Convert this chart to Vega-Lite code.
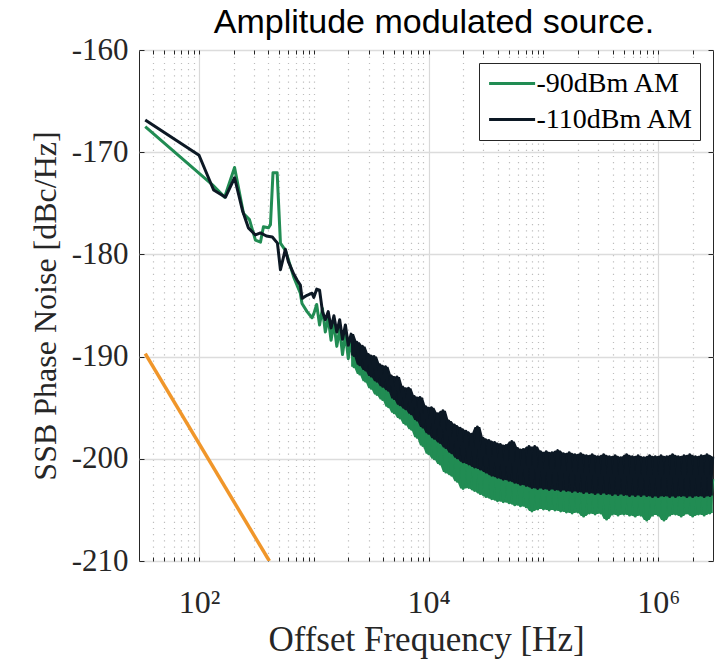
{
  "$schema": "https://vega.github.io/schema/vega-lite/v6.json",
  "width": 574,
  "height": 511,
  "autosize": "none",
  "padding": {"left": 139, "top": 50, "right": 13, "bottom": 104},
  "background": "white",
  "title": {"text": "Amplitude modulated source.", "font": "Liberation Sans", "fontSize": 34, "fontWeight": "normal", "color": "#000000", "anchor": "middle", "frame": "group", "offset": -33, "baseline": "alphabetic", "dx": 8},
  "config": {
    "view": {"stroke": "#262626", "strokeWidth": 1},
    "axis": {"domain": false, "labelFont": "Liberation Serif", "titleFont": "Liberation Serif", "labelColor": "#262626", "titleColor": "#262626", "tickColor": "#262626", "titleFontWeight": "normal", "labelFontSize": 31, "titleFontSize": 33, "labelFlush": false, "labelOverlap": false},
    "legend": {"title": null, "labelFont": "Liberation Serif", "labelFontSize": 28, "labelColor": "#000000", "symbolType": "M-1.04,0H3.56", "symbolSize": 400, "symbolStrokeWidth": 2.8, "strokeColor": "#262626", "fillColor": "white", "padding": 6.5, "labelOffset": 23, "rowPadding": 8, "labelLimit": 300}
  },
  "datasets": {
    "pn": [
      {"f": 34, "-90dBm AM": -167.5, "-110dBm AM": -166.85},
      {"f": 100, "-110dBm AM": -170.3},
      {"f": 131, "-90dBm AM": -173.2},
      {"f": 134, "-110dBm AM": -173.7},
      {"f": 167, "-90dBm AM": -174.4},
      {"f": 170, "-110dBm AM": -174.4},
      {"f": 204, "-90dBm AM": -171.5, "-110dBm AM": -172.5},
      {"f": 239, "-110dBm AM": -175.7},
      {"f": 244, "-90dBm AM": -176.0},
      {"f": 269, "-110dBm AM": -177.4},
      {"f": 275, "-90dBm AM": -176.6},
      {"f": 310, "-90dBm AM": -178.6, "-110dBm AM": -178.1},
      {"f": 343, "-90dBm AM": -178.8, "-110dBm AM": -177.9},
      {"f": 364, "-90dBm AM": -177.3},
      {"f": 386, "-110dBm AM": -178.2},
      {"f": 402, "-90dBm AM": -177.4},
      {"f": 419, "-90dBm AM": -177.1},
      {"f": 435, "-110dBm AM": -178.3},
      {"f": 441, "-90dBm AM": -172.0},
      {"f": 479, "-90dBm AM": -172.0},
      {"f": 482, "-110dBm AM": -178.9},
      {"f": 512, "-90dBm AM": -178.9, "-110dBm AM": -181.5},
      {"f": 565, "-90dBm AM": -179.6, "-110dBm AM": -179.5},
      {"f": 600, "-90dBm AM": -180.5, "-110dBm AM": -180.7},
      {"f": 667, "-90dBm AM": -182.2, "-110dBm AM": -181.9},
      {"f": 714, "-90dBm AM": -183.0, "-110dBm AM": -182.5},
      {"f": 763, "-90dBm AM": -183.8, "-110dBm AM": -183.0},
      {"f": 789, "-90dBm AM": -184.8, "-110dBm AM": -184.3},
      {"f": 873, "-90dBm AM": -185.6, "-110dBm AM": -184.0},
      {"f": 964, "-90dBm AM": -186.2, "-110dBm AM": -183.8},
      {"f": 1000, "-90dBm AM": -185.8, "-110dBm AM": -184.2},
      {"f": 1059, "-90dBm AM": -184.9, "-110dBm AM": -183.4},
      {"f": 1122, "-90dBm AM": -186.9, "-110dBm AM": -183.5},
      {"f": 1189, "-90dBm AM": -185.3, "-110dBm AM": -185.6},
      {"f": 1259, "-90dBm AM": -187.6, "-110dBm AM": -186.4},
      {"f": 1334, "-90dBm AM": -186.2, "-110dBm AM": -185.6},
      {"f": 1413, "-90dBm AM": -188.4, "-110dBm AM": -187.2},
      {"f": 1496, "-90dBm AM": -186.7, "-110dBm AM": -186.0},
      {"f": 1585, "-90dBm AM": -189.0, "-110dBm AM": -187.6},
      {"f": 1679, "-90dBm AM": -187.3, "-110dBm AM": -186.4},
      {"f": 1778, "-90dBm AM": -189.8, "-110dBm AM": -188.3},
      {"f": 1884, "-90dBm AM": -187.7, "-110dBm AM": -186.9},
      {"f": 1995, "-90dBm AM": -190.2, "-110dBm AM": -188.9},
      {"f": 2113, "-90dBm AM": -188.4, "-110dBm AM": -187.8},
      {"f": 2239, "-90dBm AM": -191.0, "-110dBm AM": -189.9},
      {"f": 2371, "-90dBm AM": -189.2, "-110dBm AM": -188.6},
      {"f": 2512, "-90dBm AM": -191.7, "-110dBm AM": -190.8},
      {"f": 2661, "-90dBm AM": -189.8, "-110dBm AM": -189.0},
      {"f": 2818, "-90dBm AM": -192.4, "-110dBm AM": -191.3},
      {"f": 2985, "-90dBm AM": -190.4, "-110dBm AM": -189.8},
      {"f": 3162, "-90dBm AM": -193.1, "-110dBm AM": -191.9},
      {"f": 3350, "-90dBm AM": -190.9, "-110dBm AM": -190.0},
      {"f": 3548, "-90dBm AM": -193.7, "-110dBm AM": -192.4},
      {"f": 3758, "-90dBm AM": -191.5, "-110dBm AM": -190.8},
      {"f": 3981, "-90dBm AM": -194.2, "-110dBm AM": -192.9},
      {"f": 4217, "-90dBm AM": -192.0, "-110dBm AM": -191.0},
      {"f": 4467, "-90dBm AM": -194.9, "-110dBm AM": -193.3},
      {"f": 4732, "-90dBm AM": -192.6, "-110dBm AM": -191.9},
      {"f": 5012, "-90dBm AM": -195.5, "-110dBm AM": -194.1},
      {"f": 5309, "-90dBm AM": -193.1, "-110dBm AM": -192.0},
      {"f": 5623, "-90dBm AM": -196.0, "-110dBm AM": -194.7},
      {"f": 5957, "-90dBm AM": -193.7, "-110dBm AM": -193.0},
      {"f": 6310, "-90dBm AM": -196.6, "-110dBm AM": -195.1},
      {"f": 6683, "-90dBm AM": -194.2, "-110dBm AM": -193.1},
      {"f": 7079, "-90dBm AM": -197.1, "-110dBm AM": -195.6},
      {"f": 7499, "-90dBm AM": -194.7, "-110dBm AM": -193.9},
      {"f": 7943, "-90dBm AM": -197.9, "-110dBm AM": -196.2},
      {"f": 8414, "-90dBm AM": -195.3, "-110dBm AM": -194.0},
      {"f": 8913, "-90dBm AM": -198.7, "-110dBm AM": -196.9},
      {"f": 9441, "-90dBm AM": -195.9, "-110dBm AM": -194.9},
      {"f": 10000, "-90dBm AM": -199.5, "-110dBm AM": -197.5},
      {"f": 10590, "-90dBm AM": -196.2, "-110dBm AM": -195.0},
      {"f": 11220, "-90dBm AM": -200.0, "-110dBm AM": -198.0},
      {"f": 11890, "-90dBm AM": -196.7, "-110dBm AM": -195.6},
      {"f": 12590, "-90dBm AM": -200.5, "-110dBm AM": -198.4},
      {"f": 13340, "-90dBm AM": -197.2, "-110dBm AM": -195.3},
      {"f": 14130, "-90dBm AM": -201.3, "-110dBm AM": -198.9},
      {"f": 14960, "-90dBm AM": -197.7, "-110dBm AM": -196.3},
      {"f": 15850, "-90dBm AM": -201.6, "-110dBm AM": -199.4},
      {"f": 16790, "-90dBm AM": -198.1, "-110dBm AM": -196.7},
      {"f": 17780, "-90dBm AM": -202.2, "-110dBm AM": -199.9},
      {"f": 18840, "-90dBm AM": -198.6, "-110dBm AM": -197.0},
      {"f": 19950, "-90dBm AM": -202.9, "-110dBm AM": -200.3},
      {"f": 21130, "-90dBm AM": -198.9, "-110dBm AM": -197.3},
      {"f": 22390, "-90dBm AM": -202.8, "-110dBm AM": -200.5},
      {"f": 23710, "-90dBm AM": -199.2, "-110dBm AM": -197.6},
      {"f": 25120, "-90dBm AM": -203.1, "-110dBm AM": -200.8},
      {"f": 26610, "-90dBm AM": -199.5, "-110dBm AM": -196.9},
      {"f": 28180, "-90dBm AM": -203.4, "-110dBm AM": -201.0},
      {"f": 29850, "-90dBm AM": -199.8, "-110dBm AM": -198.0},
      {"f": 31620, "-90dBm AM": -203.7, "-110dBm AM": -201.3},
      {"f": 33500, "-90dBm AM": -200.0, "-110dBm AM": -198.2},
      {"f": 35480, "-90dBm AM": -203.9, "-110dBm AM": -201.6},
      {"f": 37580, "-90dBm AM": -200.2, "-110dBm AM": -198.4},
      {"f": 39810, "-90dBm AM": -204.1, "-110dBm AM": -201.8},
      {"f": 42170, "-90dBm AM": -200.4, "-110dBm AM": -198.6},
      {"f": 44670, "-90dBm AM": -204.2, "-110dBm AM": -202.0},
      {"f": 47320, "-90dBm AM": -200.6, "-110dBm AM": -198.7},
      {"f": 50120, "-90dBm AM": -204.3, "-110dBm AM": -202.1},
      {"f": 53090, "-90dBm AM": -200.7, "-110dBm AM": -198.3},
      {"f": 56230, "-90dBm AM": -204.5, "-110dBm AM": -202.3},
      {"f": 59570, "-90dBm AM": -200.9, "-110dBm AM": -199.0},
      {"f": 63100, "-90dBm AM": -204.6, "-110dBm AM": -202.5},
      {"f": 66830, "-90dBm AM": -201.0, "-110dBm AM": -199.1},
      {"f": 70790, "-90dBm AM": -204.7, "-110dBm AM": -202.6},
      {"f": 74990, "-90dBm AM": -201.1, "-110dBm AM": -198.8},
      {"f": 79430, "-90dBm AM": -205.1, "-110dBm AM": -202.8},
      {"f": 84140, "-90dBm AM": -201.2, "-110dBm AM": -198.8},
      {"f": 89130, "-90dBm AM": -204.9, "-110dBm AM": -202.9},
      {"f": 94410, "-90dBm AM": -201.3, "-110dBm AM": -199.3},
      {"f": 100000, "-90dBm AM": -204.9, "-110dBm AM": -202.9},
      {"f": 105900, "-90dBm AM": -201.4, "-110dBm AM": -199.3},
      {"f": 112200, "-90dBm AM": -205.0, "-110dBm AM": -203.0},
      {"f": 118900, "-90dBm AM": -201.5, "-110dBm AM": -199.4},
      {"f": 125900, "-90dBm AM": -205.0, "-110dBm AM": -203.0},
      {"f": 133400, "-90dBm AM": -201.5, "-110dBm AM": -199.2},
      {"f": 141300, "-90dBm AM": -205.1, "-110dBm AM": -203.1},
      {"f": 149600, "-90dBm AM": -201.6, "-110dBm AM": -199.5},
      {"f": 158500, "-90dBm AM": -205.2, "-110dBm AM": -203.1},
      {"f": 167900, "-90dBm AM": -201.6, "-110dBm AM": -199.4},
      {"f": 177800, "-90dBm AM": -205.3, "-110dBm AM": -203.2},
      {"f": 188400, "-90dBm AM": -201.7, "-110dBm AM": -199.6},
      {"f": 199500, "-90dBm AM": -205.2, "-110dBm AM": -203.2},
      {"f": 211300, "-90dBm AM": -201.7, "-110dBm AM": -199.5},
      {"f": 223900, "-90dBm AM": -205.6, "-110dBm AM": -203.3},
      {"f": 237100, "-90dBm AM": -201.8, "-110dBm AM": -199.7},
      {"f": 251200, "-90dBm AM": -205.3, "-110dBm AM": -203.3},
      {"f": 266100, "-90dBm AM": -201.8, "-110dBm AM": -199.6},
      {"f": 281800, "-90dBm AM": -205.4, "-110dBm AM": -203.4},
      {"f": 298500, "-90dBm AM": -201.9, "-110dBm AM": -199.8},
      {"f": 316200, "-90dBm AM": -205.3, "-110dBm AM": -203.4},
      {"f": 335000, "-90dBm AM": -201.9, "-110dBm AM": -199.6},
      {"f": 354800, "-90dBm AM": -205.9, "-110dBm AM": -203.4},
      {"f": 375800, "-90dBm AM": -201.9, "-110dBm AM": -199.8},
      {"f": 398100, "-90dBm AM": -205.4, "-110dBm AM": -203.5},
      {"f": 421700, "-90dBm AM": -202.0, "-110dBm AM": -199.7},
      {"f": 446700, "-90dBm AM": -205.5, "-110dBm AM": -203.5},
      {"f": 473200, "-90dBm AM": -202.0, "-110dBm AM": -199.9},
      {"f": 501200, "-90dBm AM": -205.4, "-110dBm AM": -203.5},
      {"f": 530900, "-90dBm AM": -202.0, "-110dBm AM": -199.6},
      {"f": 562300, "-90dBm AM": -205.5, "-110dBm AM": -203.6},
      {"f": 595700, "-90dBm AM": -202.0, "-110dBm AM": -199.8},
      {"f": 631000, "-90dBm AM": -205.6, "-110dBm AM": -203.6},
      {"f": 668300, "-90dBm AM": -202.0, "-110dBm AM": -199.7},
      {"f": 707900, "-90dBm AM": -205.5, "-110dBm AM": -203.6},
      {"f": 749900, "-90dBm AM": -202.1, "-110dBm AM": -199.9},
      {"f": 794300, "-90dBm AM": -206.0, "-110dBm AM": -203.6},
      {"f": 841400, "-90dBm AM": -202.0, "-110dBm AM": -199.7},
      {"f": 891300, "-90dBm AM": -205.5, "-110dBm AM": -203.7},
      {"f": 944100, "-90dBm AM": -202.1, "-110dBm AM": -199.8},
      {"f": 1000000, "-90dBm AM": -205.5, "-110dBm AM": -203.7},
      {"f": 1059000, "-90dBm AM": -202.1, "-110dBm AM": -199.7},
      {"f": 1122000, "-90dBm AM": -206.0, "-110dBm AM": -203.6},
      {"f": 1189000, "-90dBm AM": -202.0, "-110dBm AM": -199.8},
      {"f": 1259000, "-90dBm AM": -205.5, "-110dBm AM": -203.7},
      {"f": 1334000, "-90dBm AM": -202.1, "-110dBm AM": -199.6},
      {"f": 1413000, "-90dBm AM": -205.4, "-110dBm AM": -203.7},
      {"f": 1496000, "-90dBm AM": -202.0, "-110dBm AM": -199.8},
      {"f": 1585000, "-90dBm AM": -205.6, "-110dBm AM": -203.6},
      {"f": 1679000, "-90dBm AM": -202.1, "-110dBm AM": -199.7},
      {"f": 1778000, "-90dBm AM": -205.3, "-110dBm AM": -203.7},
      {"f": 1884000, "-90dBm AM": -202.0, "-110dBm AM": -199.6},
      {"f": 1995000, "-90dBm AM": -205.6, "-110dBm AM": -203.7},
      {"f": 2113000, "-90dBm AM": -202.1, "-110dBm AM": -199.8},
      {"f": 2239000, "-90dBm AM": -205.4, "-110dBm AM": -203.6},
      {"f": 2371000, "-90dBm AM": -202.0, "-110dBm AM": -199.7},
      {"f": 2512000, "-90dBm AM": -205.5, "-110dBm AM": -203.7},
      {"f": 2661000, "-90dBm AM": -202.1, "-110dBm AM": -199.6},
      {"f": 2818000, "-90dBm AM": -205.3, "-110dBm AM": -203.6},
      {"f": 2985000, "-90dBm AM": -202.0, "-110dBm AM": -199.8}
    ],
    "ref": [
      {"f": 34, "v": -189.7},
      {"f": 410, "v": -210}
    ]
  },
  "layer": [
    {
      "data": {"name": "pn"},
      "transform": [
        {"fold": ["-90dBm AM", "-110dBm AM"], "as": ["series", "v"]},
        {"filter": "isValid(datum.v) && datum.series == '-90dBm AM' && datum.f >= 2000"},
        {"window": [{"op": "min", "field": "v", "as": "lo"}, {"op": "max", "field": "v", "as": "hi"}], "frame": [-1, 1], "sort": [{"field": "f"}]}
      ],
      "mark": {"type": "area", "color": "#218c53", "opacity": 1},
      "encoding": {
        "x": {"field": "f", "type": "quantitative", "scale": {"type": "log", "domain": [30, 3000000], "nice": false}, "axis": null},
        "y": {"field": "lo", "type": "quantitative", "scale": {"domain": [-210, -160], "nice": false}, "axis": null},
        "y2": {"field": "hi"}
      }
    },
    {
      "data": {"name": "pn"},
      "transform": [
        {"fold": ["-90dBm AM", "-110dBm AM"], "as": ["series", "v"]},
        {"filter": "isValid(datum.v) && datum.series == '-90dBm AM'"}
      ],
      "mark": {"type": "line", "strokeWidth": 3.0, "strokeJoin": "round"},
      "encoding": {
        "x": {
          "field": "f", "type": "quantitative",
          "scale": {"type": "log", "domain": [30, 3000000], "nice": false},
          "axis": {
            "orient": "bottom",
            "values": [40, 50, 60, 70, 80, 90, 100, 200, 300, 400, 500, 600, 700, 800, 900, 1000, 2000, 3000, 4000, 5000, 6000, 7000, 8000, 9000, 10000, 20000, 30000, 40000, 50000, 60000, 70000, 80000, 90000, 100000, 200000, 300000, 400000, 500000, 600000, 700000, 800000, 900000, 1000000, 2000000],
            "labelExpr": "datum.value == 100 ? '10²' : datum.value == 10000 ? '10⁴' : datum.value == 1000000 ? '10⁶' : ''",
            "labelFontSize": 32,
            "grid": true,
            "gridColor": {"condition": {"test": "datum.value == 100 || datum.value == 10000 || datum.value == 1000000", "value": "#d9d9d9"}, "value": "#bdbdbd"},
            "gridDash": {"condition": {"test": "datum.value == 100 || datum.value == 10000 || datum.value == 1000000", "value": []}, "value": [1.2, 5]},
            "gridWidth": 1.2,
            "tickSize": -4,
            "labelPadding": 30,
            "title": "Offset Frequency [Hz]",
            "titleFontSize": 35,
            "titlePadding": 4
          }
        },
        "y": {
          "field": "v", "type": "quantitative",
          "scale": {"domain": [-210, -160], "nice": false},
          "axis": {
            "orient": "left",
            "values": [-210, -200, -190, -180, -170, -160],
            "labelExpr": "'' + datum.value",
            "grid": true,
            "gridColor": "#dcdcdc",
            "gridWidth": 1.3,
            "tickSize": -5,
            "labelPadding": 16,
            "title": "SSB Phase Noise [dBc/Hz]",
            "titleFontSize": 32,
            "titlePadding": 9
          }
        },
        "color": {
          "field": "series", "type": "nominal",
          "scale": {"domain": ["-90dBm AM", "-110dBm AM"], "range": ["#218c53", "#0c1824"]},
          "legend": {"orient": "top-right", "offset": 13}
        }
      }
    },
    {
      "data": {"name": "pn"},
      "transform": [
        {"fold": ["-90dBm AM", "-110dBm AM"], "as": ["series", "v"]},
        {"filter": "isValid(datum.v) && datum.series == '-110dBm AM' && datum.f >= 2000"},
        {"window": [{"op": "min", "field": "v", "as": "lo"}, {"op": "max", "field": "v", "as": "hi"}], "frame": [-1, 1], "sort": [{"field": "f"}]}
      ],
      "mark": {"type": "area", "color": "#0c1824", "opacity": 1},
      "encoding": {
        "x": {"field": "f", "type": "quantitative", "scale": {"type": "log", "domain": [30, 3000000], "nice": false}, "axis": null},
        "y": {"field": "lo", "type": "quantitative", "scale": {"domain": [-210, -160], "nice": false}, "axis": null},
        "y2": {"field": "hi"}
      }
    },
    {
      "data": {"name": "pn"},
      "transform": [
        {"fold": ["-90dBm AM", "-110dBm AM"], "as": ["series", "v"]},
        {"filter": "isValid(datum.v) && datum.series == '-110dBm AM'"}
      ],
      "mark": {"type": "line", "strokeWidth": 3.0, "strokeJoin": "round"},
      "encoding": {
        "x": {
          "field": "f", "type": "quantitative",
          "scale": {"type": "log", "domain": [30, 3000000], "nice": false},
          "axis": {
            "orient": "top",
            "values": [40, 50, 60, 70, 80, 90, 100, 200, 300, 400, 500, 600, 700, 800, 900, 1000, 2000, 3000, 4000, 5000, 6000, 7000, 8000, 9000, 10000, 20000, 30000, 40000, 50000, 60000, 70000, 80000, 90000, 100000, 200000, 300000, 400000, 500000, 600000, 700000, 800000, 900000, 1000000, 2000000],
            "labels": false, "grid": false, "title": null, "tickSize": -4
          }
        },
        "y": {
          "field": "v", "type": "quantitative",
          "scale": {"domain": [-210, -160], "nice": false},
          "axis": {"orient": "right", "values": [-210, -200, -190, -180, -170, -160], "labels": false, "grid": false, "title": null, "tickSize": -5}
        },
        "color": {
          "field": "series", "type": "nominal",
          "scale": {"domain": ["-90dBm AM", "-110dBm AM"], "range": ["#218c53", "#0c1824"]},
          "legend": {"orient": "top-right", "offset": 13}
        }
      }
    },
    {
      "data": {"name": "ref"},
      "mark": {"type": "line", "color": "#f0962a", "strokeWidth": 3.5, "clip": true},
      "encoding": {
        "x": {"field": "f", "type": "quantitative", "scale": {"type": "log", "domain": [30, 3000000], "nice": false}, "axis": null},
        "y": {"field": "v", "type": "quantitative", "scale": {"domain": [-210, -160], "nice": false}, "axis": null}
      }
    }
  ]
}
